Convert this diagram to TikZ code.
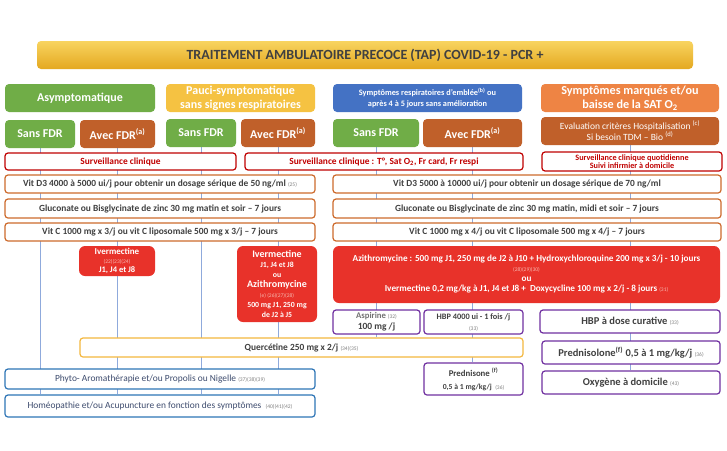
\documentclass[tikz,border=0pt]{standalone}
\usepackage{xcolor, fontspec}
\usepackage{tikz}
\usetikzlibrary{backgrounds}
\setmainfont{Carlito}

\definecolor{goldtop}{HTML}{F8D460}
\definecolor{goldbot}{HTML}{E4A820}
\definecolor{hgreen}{HTML}{70AD47}
\definecolor{hyellow}{HTML}{F5C242}
\definecolor{hblue}{HTML}{4472C4}
\definecolor{horange}{HTML}{EE8444}
\definecolor{hbrown}{HTML}{C0602A}
\definecolor{survred}{HTML}{C00000}
\definecolor{suppbrown}{HTML}{CD6A2C}
\definecolor{treatred}{HTML}{E8322A}
\definecolor{purp}{HTML}{7030A0}
\definecolor{quergold}{HTML}{F4B73E}
\definecolor{altblue}{HTML}{2E75B6}
\definecolor{alttext}{HTML}{3E4C6E}
\definecolor{darktext}{HTML}{404040}
\definecolor{linkblue}{HTML}{8FAADC}
\definecolor{citgray}{HTML}{7F7F7F}
\definecolor{citpink}{HTML}{F6B8B0}

\newcommand{\cit}[1]{{\fontsize{5.5}{6}\selectfont\mdseries\color{citgray}#1}}
\newcommand{\citw}[1]{{\fontsize{5.5}{6}\selectfont\mdseries\color{citpink}#1}}
\newcommand{\fs}[2]{\fontsize{#1}{#2}\selectfont}

\begin{document}
\begin{tikzpicture}
[
x=1pt, y=-1pt,
head/.style={rounded corners=4pt, text=white, inner sep=0pt, align=center,
	font=\fs{12}{14}\bfseries},
survbox/.style={draw=survred, fill=white, line width=1.2pt, rounded corners=3pt,
	inner sep=0pt, align=center, text=survred, font=\fs{9.4}{10}\bfseries},
suppbox/.style={draw=suppbrown, fill=white, line width=1.2pt, rounded corners=3pt,
	inner sep=0pt, align=center, text=darktext, font=\fs{9.4}{11}\bfseries},
treatbox/.style={fill=treatred, rounded corners=6pt, inner sep=0pt, align=center,
	text=white, font=\fs{9.2}{10}\bfseries},
purpbox/.style={draw=purp, fill=white, line width=1.2pt, rounded corners=3pt,
	inner sep=0pt, align=center, text=darktext, font=\fs{10.5}{12}\bfseries},
querbox/.style={draw=quergold, fill=white, line width=1.2pt, rounded corners=3pt,
	inner sep=0pt, align=center, text=darktext, font=\fs{9.4}{11}\bfseries},
altbox/.style={draw=altblue, fill=white, line width=1.2pt, rounded corners=3pt,
	inner sep=0pt, align=center, text=alttext, font=\fs{9.4}{11}},
link/.style={draw=linkblue, line width=0.6pt}
]
\useasboundingbox (0,0) rectangle (727,450);

\node[rounded corners=4pt, top color=goldtop, bottom color=goldbot, inner sep=0pt,
	minimum width=656, minimum height=28, text=darktext, font=\fs{14}{16}\bfseries]
	(title) at (365,55) {TRAITEMENT AMBULATOIRE PRECOCE (TAP) COVID-19 - PCR +};

% categories
\node[head, fill=hgreen, minimum width=150, minimum height=28] (asym) at (80,98)
	{Asymptomatique};
\node[head, fill=hyellow, minimum width=149, minimum height=28] (pauci) at (240.5,98)
	{Pauci-symptomatique\\sans signes respiratoires};
\node[head, fill=hblue, minimum width=189, minimum height=28, font=\fs{8.3}{10.5}\bfseries]
	(resp) at (427.5,98)
	{Symptômes respiratoires d'emblée\textsuperscript{(b)} ou\\après 4 à 5 jours sans amélioration};
\node[head, fill=horange, minimum width=178, minimum height=28, font=\fs{12.2}{14}\bfseries]
	(marq) at (630,98)
	{Symptômes marqués et/ou\\baisse de la SAT O\textsubscript{2}};

\node[head, fill=hgreen, minimum width=70, minimum height=28] (sansA) at (40,134) {Sans FDR};
\node[head, fill=hbrown, minimum width=75, minimum height=28] (avecA) at (117.5,134)
	{Avec FDR\textsuperscript{(a)}};
\node[head, fill=hgreen, minimum width=70, minimum height=28] (sansB) at (201,133) {Sans FDR};
\node[head, fill=hbrown, minimum width=74, minimum height=28] (avecB) at (278,133)
	{Avec FDR\textsuperscript{(a)}};
\node[head, fill=hgreen, minimum width=86, minimum height=28] (sansC) at (376,133) {Sans FDR};
\node[head, fill=hbrown, minimum width=99, minimum height=28] (avecC) at (472.5,133)
	{Avec FDR\textsuperscript{(a)}};
\node[head, fill=hbrown, minimum width=178, minimum height=28, font=\fs{9.5}{11}]
	(evalu) at (630,131)
	{Evaluation critères Hospitalisation \textsuperscript{(c)}\\Si besoin TDM -- Bio \textsuperscript{(d)}};

% surveillance
\node[survbox, minimum width=231, minimum height=17] (survA) at (120.5,161.5)
	{Surveillance clinique};
\node[survbox, minimum width=278, minimum height=17] (survB) at (384,161.5)
	{Surveillance clinique : T°, Sat O\textsubscript{2}, Fr card, Fr respi};
\node[survbox, minimum width=180, minimum height=19, font=\fs{8.2}{8.6}\bfseries]
	(survC) at (632,161.5)
	{Surveillance clinique quotidienne\\Suivi infirmier à domicile};

% supplements
\node[suppbox, minimum width=310, minimum height=18] (vitdA) at (160,184)
	{Vit D3 4000 à 5000 ui/j pour obtenir un dosage sérique de 50 ng/ml \cit{(25)}};
\node[suppbox, minimum width=388, minimum height=18] (vitdB) at (527,184)
	{Vit D3 5000 à 10000 ui/j pour obtenir un dosage sérique de 70 ng/ml};
\node[suppbox, minimum width=310, minimum height=19] (zincA) at (160,208.5)
	{Gluconate ou Bisglycinate de zinc 30 mg matin et soir -- 7 jours};
\node[suppbox, minimum width=388, minimum height=19] (zincB) at (527,208.5)
	{Gluconate ou Bisglycinate de zinc 30 mg matin, midi et soir -- 7 jours};
\node[suppbox, minimum width=310, minimum height=18] (vitcA) at (160,232)
	{Vit C 1000 mg x 3/j ou vit C liposomale 500 mg x 3/j -- 7 jours};
\node[suppbox, minimum width=388, minimum height=18] (vitcB) at (527,232)
	{Vit C 1000 mg x 4/j ou vit C liposomale 500 mg x 4/j -- 7 jours};

% treatments
\node[treatbox, minimum width=76, minimum height=30, font=\fs{8.5}{9}\bfseries] (iverA) at (117,261)
	{{\fs{9}{9}Ivermectine}\\\citw{(22)(23)(24)}\\J1, J4 et J8};
\node[treatbox, minimum width=80, minimum height=76, font=\fs{7.8}{10}\bfseries] (iverB) at (277,284)
	{{\fs{10}{10}Ivermectine}\\J1, J4 et J8\\ou\\{\fs{10}{11}Azithromycine}\\\citw{(e) (26)(27)(28)}\\500 mg J1, 250 mg\\de J2 à J5};
\node[treatbox, minimum width=387, minimum height=57] (azith) at (526.5,274.5)
	{Azithromycine : 500 mg J1, 250 mg de J2 à J10 + Hydroxychloroquine 200 mg x 3/j - 10 jours\\
	\citw{(28)(29)(30)}\\ou\\
	Ivermectine 0,2 mg/kg à J1, J4 et J8 +\ \ Doxycycline 100 mg x 2/j - 8 jours \citw{(31)}};

% anticoagulation and others
\node[purpbox, minimum width=87, minimum height=24, font=\fs{8.7}{11}\bfseries] (aspir) at (376.5,322)
	{{\color{citgray!90!black}Aspirine} \cit{(32)}\\{\fs{9.5}{10}100 mg /j}};
\node[purpbox, minimum width=99, minimum height=24, font=\fs{8.3}{11}\bfseries] (hbpA) at (473.5,322)
	{HBP 4000 ui - 1 fois /j\\\cit{(33)}};
\node[purpbox, minimum width=180, minimum height=23] (hbpB) at (630,321.5)
	{HBP à dose curative \cit{(33)}};
\node[querbox, minimum width=443, minimum height=19] (querc) at (301.5,347.5)
	{Quercétine 250 mg x 2/j \cit{(34)(35)}};
\node[purpbox, minimum width=178, minimum height=23] (predA) at (631,352.5)
	{Prednisolone\textsuperscript{(f)} 0,5 à 1 mg/kg/j \cit{(36)}};
\node[purpbox, minimum width=99, minimum height=32, font=\fs{8.8}{13}\bfseries] (predB) at (473.5,379)
	{Prednisone \textsuperscript{(f)}\\{\fs{7.7}{8}0,5 à 1 mg/kg/j \ \cit{(36)}}};
\node[purpbox, minimum width=178, minimum height=23] (oxyg) at (631,382.5)
	{Oxygène à domicile \cit{(43)}};
\node[altbox, minimum width=310, minimum height=20] (phyto) at (160,379)
	{Phyto- Aromathérapie et/ou Propolis ou Nigelle \cit{(37)(38)(39)}};
\node[altbox, minimum width=310, minimum height=22] (homeo) at (160,406)
	{Homéopathie et/ou Acupuncture en fonction des symptômes \ \cit{(40)(41)(42)}};

\begin{scope}[on background layer]
\fill[white] (0,0) rectangle (727,450);
\draw[link] (sansA.south) -- (sansA.south |- homeo.north);
\draw[link] (avecA.south) -- (avecA.south |- homeo.north);
\draw[link] (sansB.south) -- (sansB.south |- homeo.north);
\draw[link] (avecB.south) -- (avecB.south |- homeo.north);
\draw[link] (sansC.south) -- (sansC.south |- querc.north);
\draw[link] (avecC.south) -- (avecC.south |- predB.north);
\draw[link] (evalu.south) -- (evalu.south |- oxyg.north);
\end{scope}
\end{tikzpicture}
\end{document}
